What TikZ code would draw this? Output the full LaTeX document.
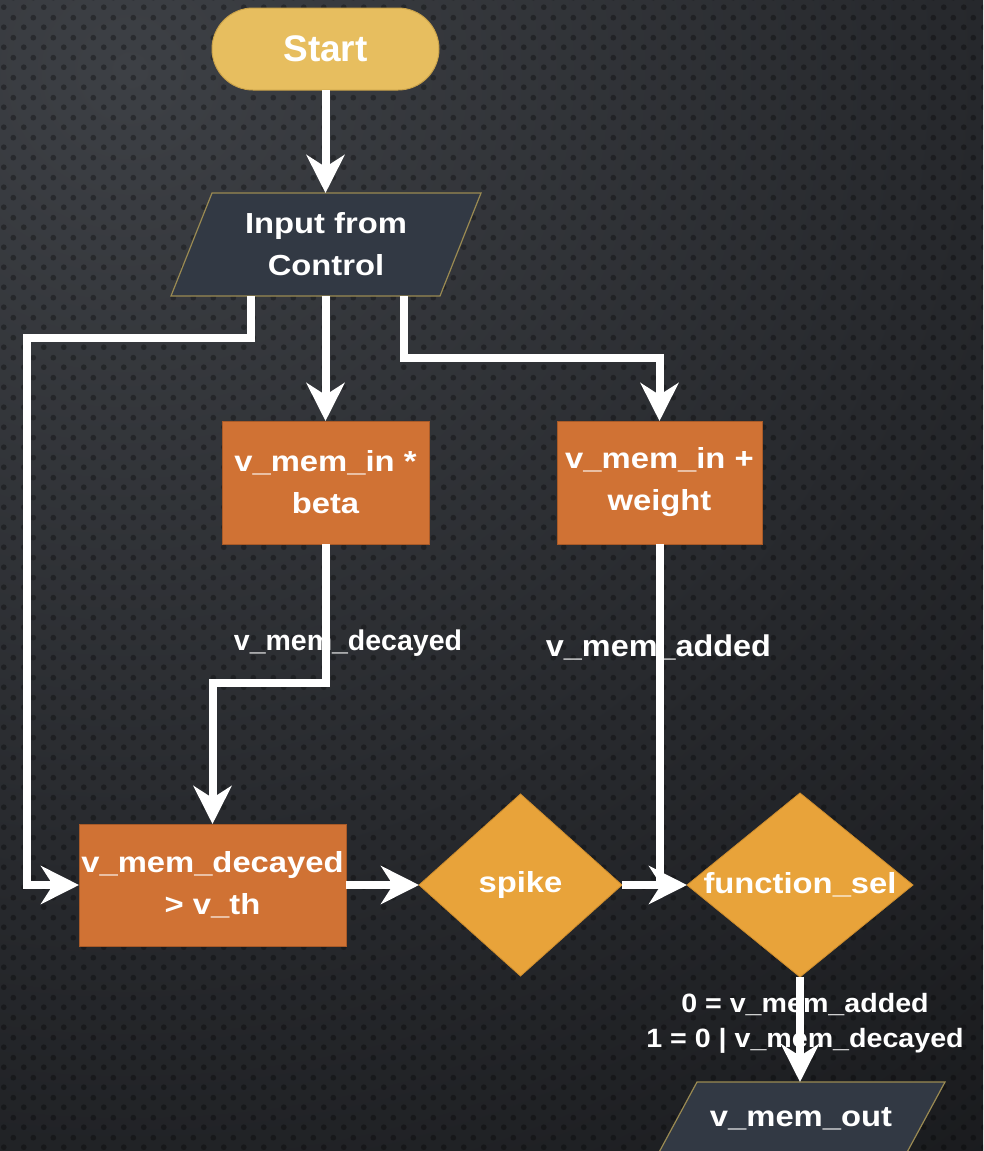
\documentclass[tikz,border=0pt]{standalone}
\usepackage{fontspec}
\setmainfont{Liberation Sans}
\newfontfamily\widefont[FakeStretch=1.13]{Liberation Sans}
\newfontfamily\midfont[FakeStretch=1.08]{Liberation Sans}
\usetikzlibrary{arrows.meta,shapes.geometric,calc,patterns.meta}

\definecolor{bgTop}{HTML}{3D4045}
\definecolor{bgMid}{HTML}{27292D}
\definecolor{bgBot}{HTML}{131416}
\definecolor{startFill}{HTML}{E7BE5F}
\definecolor{startEdge}{HTML}{C9A24A}
\definecolor{procFill}{HTML}{D07234}
\definecolor{procEdge}{HTML}{A85A28}
\definecolor{decFill}{HTML}{E8A33A}
\definecolor{decEdge}{HTML}{CF8E2E}
\definecolor{ioFill}{HTML}{323944}
\definecolor{ioEdge}{HTML}{9A8A52}

\pgfdeclareradialshading{bgglow}{\pgfpoint{0bp}{0bp}}{%
  color(0bp)=(bgTop); color(12bp)=(bgMid); color(25bp)=(bgBot); color(50bp)=(bgBot)}

% perforated metal texture
\tikzdeclarepattern{
  name=perforation,
  type=uncolored,
  bounding box={(0pt,0pt) and (20pt,20pt)},
  tile size={(20pt,20pt)},
  code={
    \fill (5pt,5pt) circle (3pt);
    \fill (15pt,15pt) circle (3pt);
  }
}

\begin{document}
\begin{tikzpicture}[x=1pt,y=-1pt,
  boxfont/.style={font=\widefont\bfseries\fontsize{29}{42}\selectfont},
  txt/.style={boxfont, text=white, align=center, inner sep=0pt},
  startbox/.style={rectangle, rounded corners=41pt, fill=startFill, draw=startEdge,
    line width=1pt, text=white, inner sep=0pt, outer sep=0pt,
    minimum width=227pt, minimum height=82pt,
    font=\bfseries\fontsize{37}{44}\selectfont},
  procbox/.style={rectangle, fill=procFill, draw=procEdge, line width=1pt,
    txt, outer sep=0pt},
  decision/.style={diamond, fill=decFill, draw=decEdge, line width=0.8pt,
    inner sep=0pt, outer sep=0pt},
  ioframe/.style={rectangle, inner sep=0pt, outer sep=0pt},
  ioshape/.style={fill=ioFill, draw=ioEdge, line width=1.2pt, line join=miter},
  flowline/.style={draw=white, line width=8pt},
  flow/.style={flowline, -{Stealth[length=38pt,width=38pt,inset=12pt]}},
  edgelabel/.style={text=white, inner sep=0pt, anchor=base},
]
\useasboundingbox (0,0) rectangle (983,1151);
\clip (0,0) rectangle (983,1151);

% background
\fill[bgBot] (0,0) rectangle (983,1151);
\shade[shading=bgglow] (130,70) circle (1700pt);
\fill[pattern=perforation, pattern color=black, fill opacity=0.3] (0,0) rectangle (983,1151);

% nodes
\node[startbox] (start) at (325.5,49) {Start};

\node[ioframe, minimum width=310pt, minimum height=103pt] (inp) at (326,244.5) {};
\filldraw[ioshape] (inp.south west) -- ($(inp.north west)+(41,0)$)
  -- (inp.north east) -- ($(inp.south east)+(-41,0)$) -- cycle;
\node[txt] (inptxt) at (inp.center) {Input from\\Control};

\node[procbox, minimum width=207pt, minimum height=123pt] (beta) at (325.5,482.5) {v\_mem\_in *\\beta};
\node[procbox, minimum width=205pt, minimum height=123pt] (wt) at (659.5,482.5) {v\_mem\_in +\\weight};
\node[procbox, minimum width=267pt, minimum height=122pt] (dec) at (212.5,885) {v\_mem\_decayed\\> v\_th};

\node[decision, minimum width=203pt, minimum height=182pt] (spike) at (520.5,885) {};
\node[txt] (spiketxt) at (spike.center) {spike};

\node[decision, minimum width=226pt, minimum height=184pt] (fsel) at (800,885) {};
\node[txt] (fseltxt) at (fsel.center) {function\_sel};

\node[ioframe, minimum width=288pt, minimum height=74pt] (out) at (801,1119) {};
\filldraw[ioshape] (out.south west) -- ($(out.north west)+(40,0)$)
  -- (out.north east) -- ($(out.south east)+(-40,0)$) -- cycle;
\node[txt] (outtxt) at (out.center) {v\_mem\_out};

% connectors
\draw[flow] (start.south) -- (start.south |- inp.north);
\draw[flow] ($(inp.south)+(-75.5,0)$) |- (27,338) |- (dec.west);
\draw[flow] (inp.south -| beta.north) -- (beta.north);
\draw[flow] ($(inp.south)+(78,0)$) -- ++(0,62) -| (wt.north);
\draw[flow] (beta.south) -- ++(0,139) -| (dec.north);
\draw[flow] (dec.east) -- (spike.west);
\draw[flow] (spike.east) -- (fsel.west);
\draw[flowline] (wt.south) -- (wt.south |- fsel.west);
\draw[flow] (fsel.south) -- (fsel.south |- out.north);

% connector labels
\node[edgelabel, font=\bfseries\fontsize{28.5}{34}\selectfont] (lbldec) at (348,650) {v\_mem\_decayed};
\node[edgelabel, font=\midfont\bfseries\fontsize{30}{36}\selectfont] (lbladd) at (658.5,656) {v\_mem\_added};
\node[edgelabel, font=\midfont\bfseries\fontsize{26.5}{35}\selectfont] (lblsela) at (805,1012) {0 = v\_mem\_added};
\node[edgelabel, font=\midfont\bfseries\fontsize{26.5}{35}\selectfont] (lblselb) at (805,1047) {1 = 0 | v\_mem\_decayed};
\end{tikzpicture}
\end{document}
